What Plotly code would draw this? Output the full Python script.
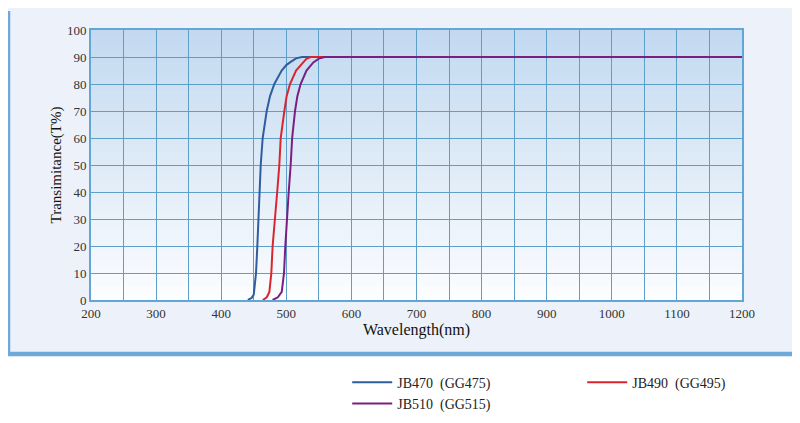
import plotly.graph_objects as go

# transmittance curves (wavelength nm, T%)
jb470_nm = [441, 444, 447, 450, 453.5, 455.5, 457, 458.5, 460.7, 463.7, 469.9, 475, 481.6, 492.9, 500, 505.7, 515, 524, 1200]
jb470_t = [0, 0.3, 0.8, 2, 10, 20, 30, 40, 50, 60, 70, 75.5, 80, 85, 87, 88, 89.5, 90, 90]

jb490_nm = [464, 470, 474, 477, 479, 482, 486, 489.3, 491.4, 497, 500.5, 505.7, 515, 526, 531, 537, 1200]
jb490_t = [0, 1, 3, 10, 20, 30, 40, 50, 60, 70, 75.5, 80, 85, 88, 89.3, 90, 90]

jb510_nm = [479, 487, 493, 496.5, 498.5, 500.6, 503.7, 506.7, 509, 513.4, 517, 522, 531, 541.5, 550, 559, 1200]
jb510_t = [0, 1, 3, 10, 20, 30, 40, 50, 60, 70, 75.5, 80, 85, 88, 89.4, 90, 90]

names = ["JB470\u00a0\u00a0(GG475)", "JB490\u00a0\u00a0(GG495)", "JB510\u00a0\u00a0(GG515)"]
colors = ["#2f5d9e", "#d9262e", "#7a1f80"]

x_ticks = list(range(200, 1201, 100))
y_ticks = list(range(0, 101, 10))

serif = "Liberation Serif"

fig = go.Figure()
for nm, t, name, c in zip([jb470_nm, jb490_nm, jb510_nm], [jb470_t, jb490_t, jb510_t], names, colors):
    fig.add_trace(go.Scatter(x=nm, y=t, mode="lines", name=name,
                             line=dict(color=c, width=2)))

shapes = []
# outer pale panel with blue left/bottom border (paper coords, plot area is 0..1)
shapes.append(dict(type="rect", xref="paper", yref="paper", x0=-0.132, x1=1.081, y0=-0.204, y1=1.085,
                   fillcolor="#edf2fa", line_width=0, layer="below"))
shapes.append(dict(type="rect", xref="paper", yref="paper", x0=-0.132, x1=-0.124, y0=-0.204, y1=1.07,
                   fillcolor="#6ea9d9", line_width=0, layer="below"))
shapes.append(dict(type="rect", xref="paper", yref="paper", x0=-0.132, x1=1.078, y0=-0.208, y1=-0.192,
                   fillcolor="#6ea9d9", line_width=0, layer="below"))

# vertical gradient in the plot area: light blue at top fading to white
top = (0xc2, 0xd9, 0xf0)
bot = (0xfc, 0xfd, 0xff)
n = 40
for i in range(n):
    f = (i + 0.5) / n
    col = "rgb(%d,%d,%d)" % tuple(round(b + (a - b) * f) for a, b in zip(top, bot))
    shapes.append(dict(type="rect", xref="paper", yref="paper", x0=0, x1=1,
                       y0=i / n, y1=(i + 1) / n + 0.002, fillcolor=col, line_width=0, layer="below"))

# page body adds ~8px offset, so margins are pulled in by 8
fig.update_layout(
    width=800, height=423,
    margin=dict(l=83, r=66, t=22, b=131),
    paper_bgcolor="white",
    plot_bgcolor="rgba(0,0,0,0)",
    shapes=shapes,
    font=dict(family=serif, color="#222"),
    showlegend=True,
    legend=dict(orientation="h", xref="container", yref="container",
                x=0.424, xanchor="left", y=0.152, yanchor="top",
                entrywidth=180, itemwidth=40,
                font=dict(family=serif, size=14, color="#222"),
                bgcolor="rgba(0,0,0,0)", traceorder="normal"),
)

fig.update_xaxes(
    range=[200, 1200], tickvals=x_ticks, ticks="", showgrid=True,
    gridcolor="#5e9fca", gridwidth=1,
    minor=dict(dtick=50, showgrid=True, gridcolor="#5e9fca", gridwidth=1),
    showline=True, linecolor="#62a6d6", linewidth=2, mirror=True,
    tickfont=dict(family=serif, size=13, color="#333"),
    title=dict(text="Wavelength(nm)", font=dict(family=serif, size=16, color="#111"), standoff=4),
    zeroline=False,
)
fig.update_yaxes(
    range=[0, 100], tickvals=y_ticks, ticks="", showgrid=True,
    gridcolor="#5e9fca", gridwidth=1,
    showline=True, linecolor="#62a6d6", linewidth=2, mirror=True,
    tickfont=dict(family=serif, size=13, color="#333"),
    title=dict(text="Transimitance(T%)", font=dict(family=serif, size=15, color="#111"), standoff=2),
    zeroline=False,
)

fig.write_html("out.html")
